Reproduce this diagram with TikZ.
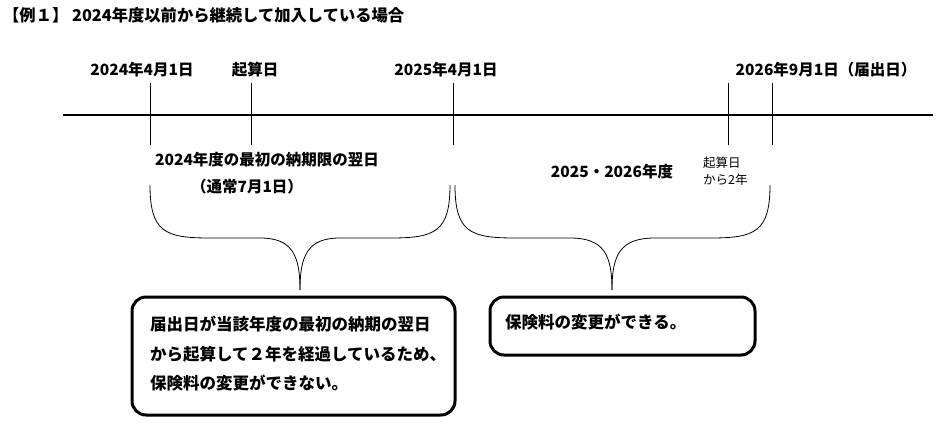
\documentclass[tikz,border=0pt]{standalone}
\usepackage{fontspec}
\setmainfont{Noto Sans CJK JP}
\begin{document}
\begin{tikzpicture}[x=1pt,y=-1pt,
    lbl/.style={font=\fontsize{15.5}{18}\selectfont\bfseries, inner sep=0pt},
    tick/.style={line width=1pt},
    brace/.style={line width=0.8pt},
    box/.style={draw, line width=3pt, rounded corners=14pt},
    boxtxt/.style={font=\fontsize{16.5}{29.5}\selectfont\bfseries, align=left, anchor=north west, inner sep=0pt}]
  \useasboundingbox (0,0) rectangle (946,429);
  % Title
  \node (title) [lbl, font=\fontsize{16.3}{18}\selectfont\bfseries, anchor=west] at (3,15) {【例１】 2024年度以前から継続して加入している場合};
  % Timeline
  \coordinate (tl) at (63,115);
  \coordinate (tr) at (933,115);
  \draw [line width=2.5pt] (tl) -- (tr);
  \foreach \name/\x in {t1/150, t2/251, t3/453, t4/728, t5/772} {
    \coordinate (\name a) at (\x,83);
    \coordinate (\name b) at (\x,145);
    \draw [tick] (\name a) -- (\name b);
  }
  % Dates
  \node (d1) [lbl] at (142,70) {2024年4月1日};
  \node (d2) [lbl] at (255,70) {起算日};
  \node (d3) [lbl] at (446,70) {2025年4月1日};
  \node (d4) [lbl] at (826,70) {2026年9月1日（届出日）};
  % Periods
  \node (p1) [lbl, anchor=west] at (155,160) {2024年度の最初の納期限の翌日};
  \node (p1b) [lbl] at (247,187) {（通常7月1日）};
  \node (p2) [lbl] at (612,172) {2025・2026年度};
  \node (p3) [font=\fontsize{12.5}{14}\selectfont, inner sep=0pt, align=left, anchor=west] at (703,171) {起算日\\[3pt]から2年};
  % Braces
  \draw [brace] (150,185) .. controls (150,232) and (165,238) .. (210,238)
     -- (260,238) .. controls (292,238) and (300,255) .. (300,290);
  \draw [brace] (450,185) .. controls (450,232) and (435,238) .. (390,238)
     -- (340,238) .. controls (308,238) and (300,255) .. (300,290);
  \draw [brace] (455,185) .. controls (455,232) and (470,238) .. (515,238)
     -- (570,238) .. controls (604,238) and (612,255) .. (612,290);
  \draw [brace] (770,185) .. controls (770,232) and (755,238) .. (710,238)
     -- (655,238) .. controls (620,238) and (612,255) .. (612,290);
  % Boxes
  \draw [box] (132,297) rectangle (455,415);
  \node (b1) [boxtxt] at (150,316) {届出日が当該年度の最初の納期の翌日\\から起算して２年を経過しているため、\\保険料の変更ができない。};
  \draw [box] (490,297) rectangle (755,355);
  \node (b2) [boxtxt] at (505,314) {保険料の変更ができる。};
\end{tikzpicture}
\end{document}
